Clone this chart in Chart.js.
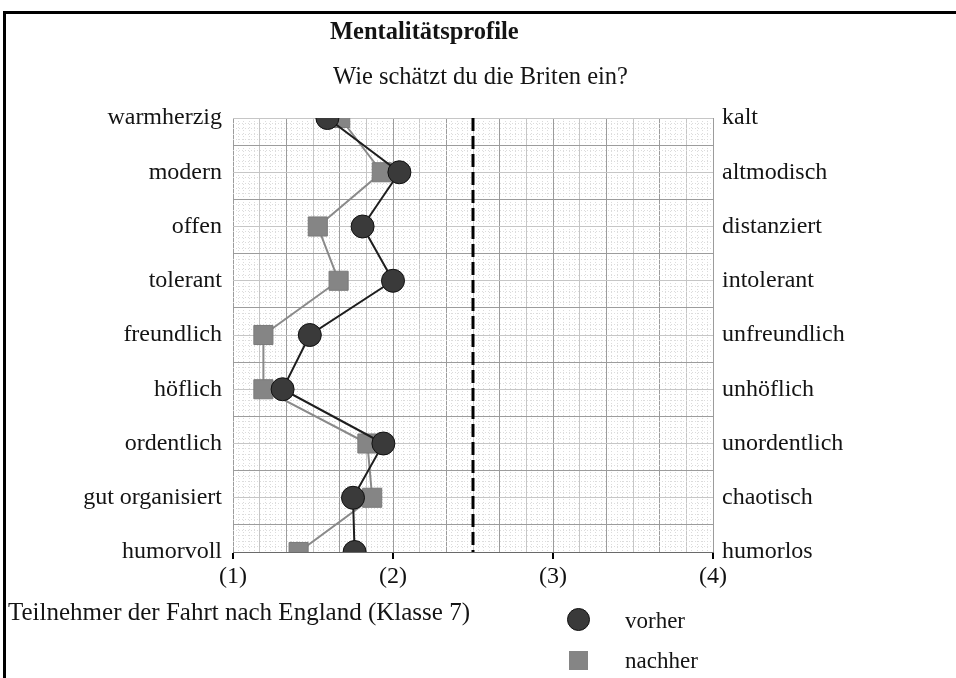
<!DOCTYPE html>
<html lang="de">
<head>
<meta charset="utf-8">
<title>Mentalitätsprofile</title>
<script src="https://cdn.jsdelivr.net/npm/chart.js@4.4.1/dist/chart.umd.min.js"></script>
<style>
  html, body { margin: 0; padding: 0; background: #fff; }
  #wrap { position: relative; width: 956px; height: 678px; overflow: hidden;
          font-family: 'Liberation Serif', 'Times New Roman', serif; color: #141414; }
  #frame { position: absolute; left: 3px; top: 11px; right: -10px; bottom: -10px;
           border-top: 3px solid #000; border-left: 3px solid #000; }
  #chart { position: absolute; left: 0; top: 0; }
  .txt { position: absolute; white-space: nowrap; line-height: 1; }
  #title { left: 330px; top: 19px; font-size: 24.5px; font-weight: bold; }
  #subtitle { left: 333px; top: 64px; font-size: 24.5px; }
  #note { left: 8px; top: 599px; font-size: 25px; }
  .key { position: absolute; }
  #keyBefore { left: 567px; top: 608px; width: 23px; height: 23px; border-radius: 50%; background: #3a3a3a; border: 1px solid #111; box-sizing: border-box; }
  #keyAfter { left: 569px; top: 651px; width: 19px; height: 19px; background: #858585; }
  #lblBefore { left: 625px; top: 609px; font-size: 23px; }
  #lblAfter { left: 625px; top: 649px; font-size: 23px; }
</style>
</head>
<body>
<div id="wrap">
  <div id="frame"></div>
  <canvas id="chart" width="956" height="678"></canvas>
  <div class="txt" id="title">Mentalitätsprofile</div>
  <div class="txt" id="subtitle">Wie schätzt du die Briten ein?</div>
  <div class="txt" id="note">Teilnehmer der Fahrt nach England (Klasse 7)</div>
  <div class="key" id="keyBefore"></div>
  <div class="txt" id="lblBefore">vorher</div>
  <div class="key" id="keyAfter"></div>
  <div class="txt" id="lblAfter">nachher</div>
</div>
<script>
// Gegensatzpaare (links positiv, rechts negativ)
const leftLabels = ['warmherzig', 'modern', 'offen', 'tolerant', 'freundlich',
                    'höflich', 'ordentlich', 'gut organisiert', 'humorvoll'];
const rightLabels = ['kalt', 'altmodisch', 'distanziert', 'intolerant', 'unfreundlich',
                     'unhöflich', 'unordentlich', 'chaotisch', 'humorlos'];
const vorher = [1.59, 2.04, 1.81, 2.0, 1.48, 1.31, 1.94, 1.75, 1.76];
const nachher = [1.67, 1.93, 1.53, 1.66, 1.19, 1.19, 1.84, 1.87, 1.41];
const scaleTicks = ['(1)', '(2)', '(3)', '(4)'];
const neutral = 2.5;

const serif = "'Liberation Serif', 'Times New Roman', serif";

function toPoints(values) {
    return values.map((v, i) => ({ x: v, y: i }));
}

// hidden helper axes only draw the graph paper
function paperAxis(pos, max, color, dash, reverse) {
    return {
        type: 'linear',
        position: pos,
        min: 0,
        max: max,
        reverse: !!reverse,
        ticks: { display: false, stepSize: 1 },
        grid: { color: color, lineWidth: 1, drawTicks: false },
        border: { display: false, dash: dash },
        afterFit: (scale) => {
            if (pos === 'bottom') scale.height = 0; else scale.width = 0;
        }
    };
}

new Chart(document.getElementById('chart'), {
    type: 'scatter',
    data: {
        datasets: [
            {
                label: 'vorher',
                data: toPoints(vorher),
                showLine: true,
                borderColor: '#1e1e1e',
                borderWidth: 2,
                pointStyle: 'circle',
                pointRadius: 11.5,
                pointBackgroundColor: '#3a3a3a',
                pointBorderColor: '#111',
                pointBorderWidth: 1
            },
            {
                label: 'nachher',
                data: toPoints(nachher),
                showLine: true,
                borderColor: '#8a8a8a',
                borderWidth: 2,
                pointStyle: 'rect',
                pointRadius: 13.5,
                pointBackgroundColor: '#858585',
                pointBorderColor: '#7a7a7a',
                pointBorderWidth: 1
            },
            {
                label: 'neutral',
                data: [{ x: neutral, y: 0 }, { x: neutral, y: leftLabels.length - 1 }],
                showLine: true,
                borderColor: '#000',
                borderWidth: 3,
                borderDash: [13, 5],
                pointRadius: 0
            }
        ]
    },
    options: {
        responsive: false,
        animation: false,
        layout: { padding: { top: 118, left: 0, right: 0, bottom: 0 } },
        plugins: { legend: { display: false }, tooltip: { enabled: false } },
        scales: {
            x: {
                type: 'linear',
                position: 'bottom',
                min: 1,
                max: 4,
                ticks: {
                    stepSize: 1,
                    padding: 3,
                    color: '#111',
                    font: { family: serif, size: 24 },
                    callback: (v) => scaleTicks[v - 1]
                },
                grid: { drawOnChartArea: false, drawTicks: true, tickLength: 7, color: '#000', lineWidth: 2 },
                border: { display: true, color: '#6a6a6a', width: 1 },
                afterFit: (scale) => { scale.height = 126; }
            },
            y: {
                type: 'linear',
                position: 'left',
                min: 0,
                max: leftLabels.length - 1,
                reverse: true,
                ticks: {
                    stepSize: 1,
                    padding: 11,
                    color: '#141414',
                    font: { family: serif, size: 24 },
                    callback: (v) => leftLabels[v]
                },
                grid: { display: false, drawTicks: false },
                border: { display: false },
                afterFit: (scale) => { scale.width = 233; }
            },
            y2: {
                type: 'linear',
                position: 'right',
                min: 0,
                max: rightLabels.length - 1,
                reverse: true,
                ticks: {
                    stepSize: 1,
                    padding: 9,
                    color: '#141414',
                    font: { family: serif, size: 24 },
                    callback: (v) => rightLabels[v]
                },
                grid: { display: false, drawTicks: false },
                border: { display: false },
                afterFit: (scale) => { scale.width = 243; }
            },
            // Millimeterpapier
            xMinor: paperAxis('bottom', 90, '#dcdcdc', [1, 2]),
            xMajor: paperAxis('bottom', 18, (c) => (c.tick.value % 2 === 0 ? '#9c9c9c' : '#c6c6c6'), []),
            yMinor: paperAxis('left', 80, '#dcdcdc', [1, 2], true),
            yMajor: paperAxis('left', 16, (c) => (c.tick.value % 2 === 1 ? '#9c9c9c' : '#c6c6c6'), [], true)
        }
    }
});
</script>
</body>
</html>
